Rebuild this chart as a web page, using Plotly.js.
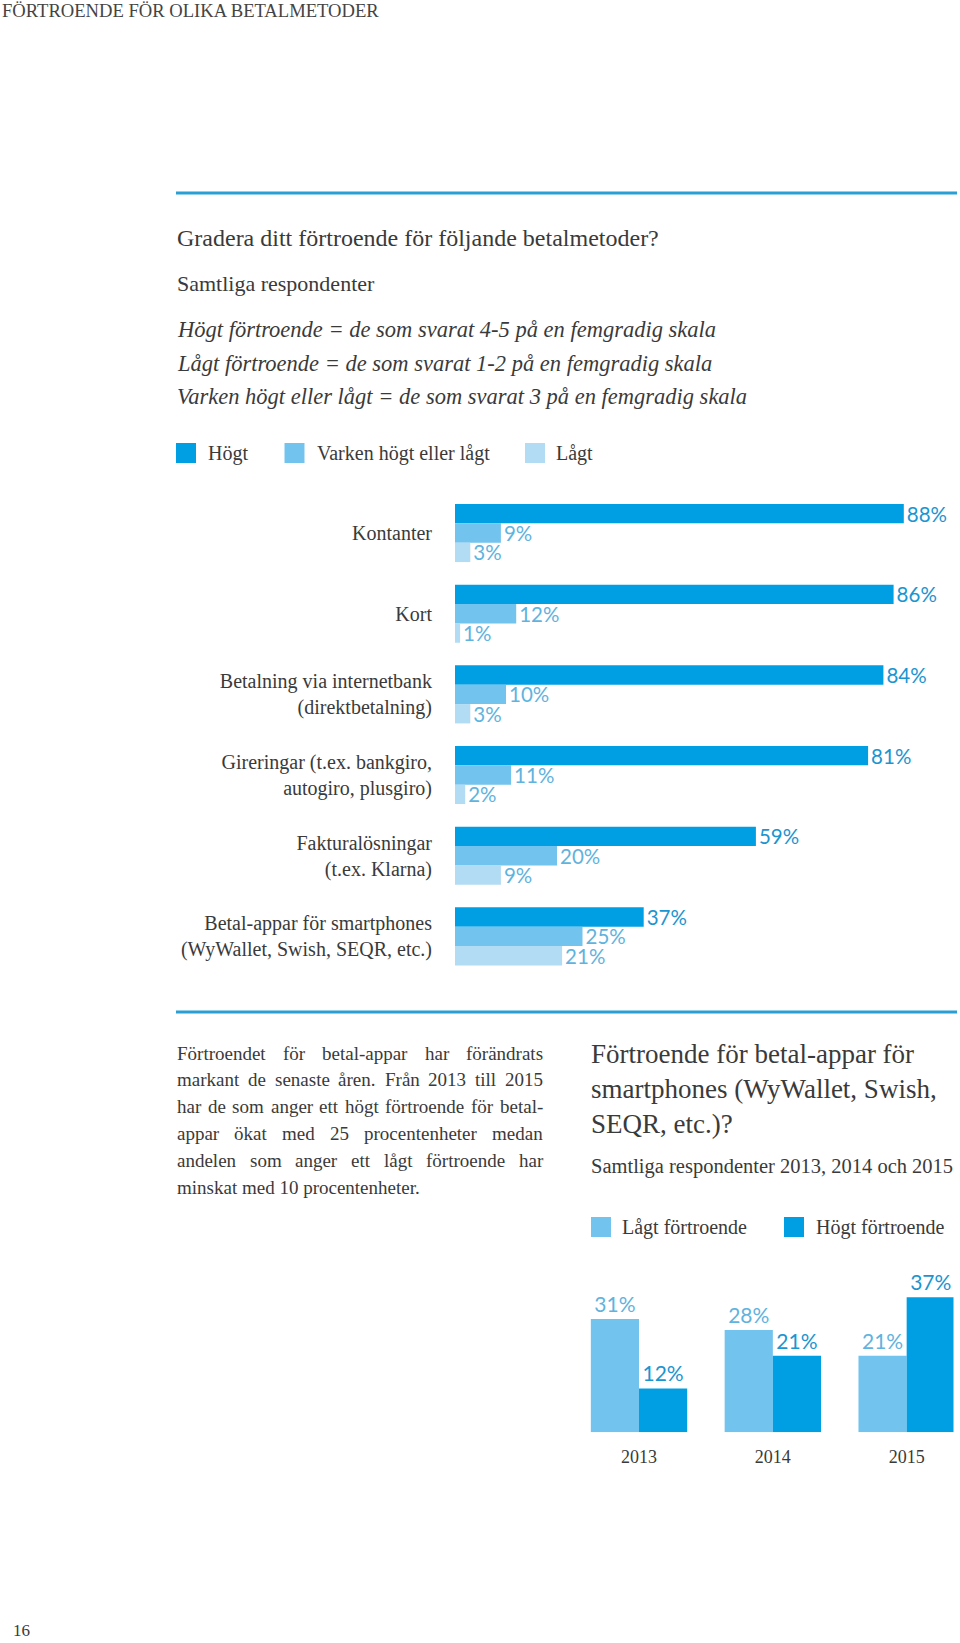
<!DOCTYPE html>
<html><head><meta charset="utf-8">
<script src="https://cdn.plot.ly/plotly-3.0.1.min.js"></script>
<style>html,body{margin:0;padding:0;background:#fff}#chart{width:960px;height:1643px}</style>
</head><body><div id="chart"></div>
<script>
// ---- data ----
const methods = [
  "Kontanter",
  "Kort",
  "Betalning via internetbank<br>(direktbetalning)",
  "Gireringar (t.ex. bankgiro,<br>autogiro, plusgiro)",
  "Fakturalösningar<br>(t.ex. Klarna)",
  "Betal-appar för smartphones<br>(WyWallet, Swish, SEQR, etc.)"
];
const hogt   = [88, 86, 84, 81, 59, 37];
const varken = [9, 12, 10, 11, 20, 25];
const lagt   = [3, 1, 3, 2, 9, 21];
const seriesNames = ["Högt", "Varken högt eller lågt", "Lågt"];

const years = ["2013", "2014", "2015"];
const lagtYears = [31, 28, 21];
const hogtYears = [12, 21, 37];
const yearSeriesNames = ["Lågt förtroende", "Högt förtroende"];

const pageTitle = "FÖRTROENDE FÖR OLIKA BETALMETODER";
const question = "Gradera ditt förtroende för följande betalmetoder?";
const base = "Samtliga respondenter";
const defs = [
  "Högt förtroende = de som svarat 4-5 på en femgradig skala",
  "Lågt förtroende = de som svarat 1-2 på en femgradig skala",
  "Varken högt eller lågt = de som svarat 3 på en femgradig skala"
];
const paragraph = [
  "Förtroendet för betal-appar har förändrats",
  "markant de senaste åren. Från 2013 till 2015",
  "har de som anger ett högt förtroende för betal-",
  "appar ökat med 25 procentenheter medan",
  "andelen som anger ett lågt förtroende har",
  "minskat med 10 procentenheter."
];
const heading2 = "Förtroende för betal-appar för<br>smartphones (WyWallet, Swish,<br>SEQR, etc.)?";
const base2 = "Samtliga respondenter 2013, 2014 och 2015";
const pageNo = "16";

// ---- styles ----
const C_HIGH = "#009fe3", C_MID = "#72c3ee", C_LOW = "#b2dcf4";
const T_HIGH = "#1b95d0", T_LIGHT = "#5fb3de";
const LINE = "#2a9fd6", TXT = "#3a3a3a";
const SERIF = "Liberation Serif", NUM = "Lato";

const W = 960, H = 1643;
const fx = x => x / W, fy = y => 1 - y / H;

const annotations = [];
function txt(x, y, text, size, extra) {
  annotations.push(Object.assign({
    xref: "paper", yref: "paper", x: fx(x), y: fy(y), text: text,
    showarrow: false, xanchor: "left", yanchor: "middle", align: "left",
    font: {family: SERIF, size: size, color: TXT}
  }, extra || {}));
}
const shapes = [];
function rect(x0, y0, x1, y1, color) {
  shapes.push({type: "rect", xref: "paper", yref: "paper", x0: fx(x0), x1: fx(x1), y0: fy(y1), y1: fy(y0),
    fillcolor: color, line: {width: 0}});
}
function hline(x0, x1, y, color, w) {
  shapes.push({type: "line", xref: "paper", yref: "paper", x0: fx(x0), x1: fx(x1), y0: fy(y), y1: fy(y),
    line: {color: color, width: w}});
}

// header
txt(0, 11, pageTitle, 18.6, {font: {family: SERIF, size: 18.6, color: "#444"}});
hline(176, 957, 193, LINE, 3);
txt(175, 238, question, 24);
txt(175, 283, base, 22);
defs.forEach((d, i) => txt(175, 330 + i * 33.5, "<i>" + d + "</i>", 22.5));

// legend 1
const legCols = [C_HIGH, C_MID, C_LOW];
const legBox = [176, 284.5, 525];
const legTxt = [206, 315, 554];
seriesNames.forEach((n, i) => {
  rect(legBox[i], 443, legBox[i] + 20, 463, legCols[i]);
  txt(legTxt[i], 453, n, 20);
});

// second rule
hline(176, 957, 1012, LINE, 3);

// justified paragraph
const cv = document.createElement("canvas").getContext("2d");
const PSIZE = 19;
cv.font = PSIZE + "px \"" + SERIF + "\"";
const pX0 = 175, pX1 = 541;
paragraph.forEach((line, i) => {
  const y = 1053 + i * 26.8;
  const words = line.split(" ");
  const last = i === paragraph.length - 1;
  if (last) { txt(pX0, y, line, PSIZE); return; }
  const widths = words.map(w => cv.measureText(w).width);
  const total = widths.reduce((a, b) => a + b, 0);
  const gap = (pX1 - pX0 - total) / (words.length - 1);
  let x = pX0;
  words.forEach((w, k) => { txt(x, y, w, PSIZE); x += widths[k] + gap; });
});

// right heading
txt(589, 1089, heading2, 27);
txt(589, 1166, base2, 20.5);

// legend 2
rect(591, 1217, 611, 1237, C_MID);
txt(620, 1227, yearSeriesNames[0], 20);
rect(784, 1217, 804, 1237, C_HIGH);
txt(814, 1227, yearSeriesNames[1], 20);

// page number
txt(11, 1630, pageNo, 17);

// ---- traces ----
const hbar = (vals, name, color, tcolor) => ({
  type: "bar", orientation: "h", y: methods, x: vals, name: name,
  marker: {color: color, line: {width: 0}},
  texttemplate: "%{x}%", textposition: "outside", cliponaxis: false, constraintext: "none",
  textfont: {family: NUM, size: 20.5, color: tcolor},
  xaxis: "x", yaxis: "y", hoverinfo: "skip"
});
const vbar = (vals, name, color, tcolor) => ({
  type: "bar", x: years, y: vals, name: name,
  marker: {color: color, line: {width: 0}},
  texttemplate: "%{y}%", textposition: "outside", cliponaxis: false, constraintext: "none",
  textfont: {family: NUM, size: 21, color: tcolor},
  xaxis: "x2", yaxis: "y2", hoverinfo: "skip"
});

const data = [
  hbar(hogt, seriesNames[0], C_HIGH, T_HIGH),
  hbar(varken, seriesNames[1], C_MID, T_LIGHT),
  hbar(lagt, seriesNames[2], C_LOW, T_LIGHT),
  vbar(lagtYears, yearSeriesNames[0], C_MID, T_LIGHT),
  vbar(hogtYears, yearSeriesNames[1], C_HIGH, T_HIGH)
];

const layout = {
  width: W, height: H, margin: {l: 0, r: 0, t: 0, b: 0},
  paper_bgcolor: "#fff", plot_bgcolor: "rgba(0,0,0,0)",
  barmode: "group", bargap: 0.28, bargroupgap: 0, showlegend: false,
  font: {family: SERIF, color: TXT},
  xaxis: {domain: [455 / W, 914 / W], range: [0, 90], visible: false, anchor: "y"},
  yaxis: {domain: [fy(976.7), fy(492.7)], type: "category", range: [5.5, -0.5], anchor: "x",
    showgrid: false, zeroline: false, showline: false, ticks: "", ticklabelstandoff: 22,
    tickfont: {family: SERIF, size: 20, color: TXT}},
  xaxis2: {domain: [572.1 / W, 953.5 / W], type: "category", range: [-0.5, 2.35], anchor: "y2",
    showgrid: false, zeroline: false, showline: false, ticks: "", ticklabelstandoff: 12,
    tickfont: {family: SERIF, size: 18, color: TXT}},
  yaxis2: {domain: [fy(1432.3), fy(1268)], range: [0, 45], visible: false, anchor: "x2"},
  annotations: annotations, shapes: shapes
};

Plotly.newPlot("chart", data, layout, {staticPlot: true, displayModeBar: false});
</script></body></html>
